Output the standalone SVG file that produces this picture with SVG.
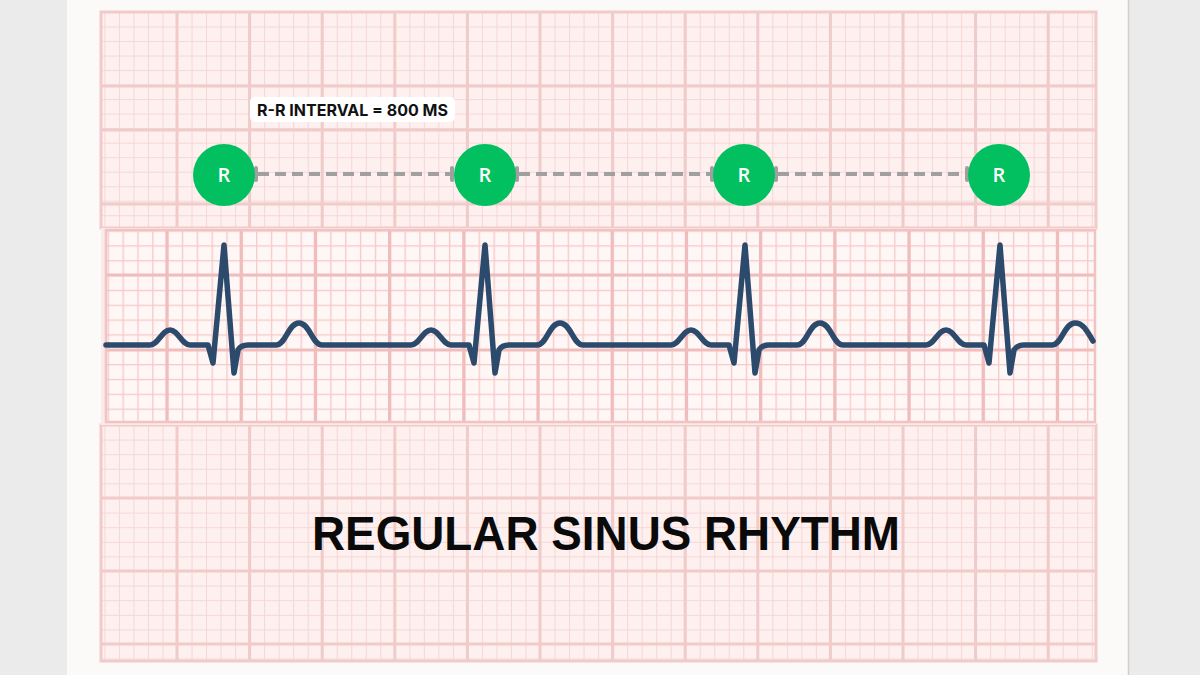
<svg xmlns="http://www.w3.org/2000/svg" width="1200" height="675" viewBox="0 0 1200 675">
<defs>
<pattern id="gridA" patternUnits="userSpaceOnUse" x="104.4" y="12" width="14.52" height="14.52">
<rect width="14.52" height="14.52" fill="#fdf0ef"/>
<path d="M0 0H14.52M0 0V14.52" stroke="#f5d7d6" stroke-width="2" fill="none"/>
</pattern>
<pattern id="gridL" patternUnits="userSpaceOnUse" x="104.4" y="425" width="14.52" height="14.6">
<rect width="14.52" height="14.6" fill="#fdf0ef"/>
<path d="M0 0H14.52M0 0V14.6" stroke="#f5d7d6" stroke-width="2" fill="none"/>
</pattern>
<pattern id="gridS" patternUnits="userSpaceOnUse" x="167" y="275" width="14.84" height="14.84">
<rect width="14.84" height="14.84" fill="#fff6f6"/>
<path d="M0 0H14.84M0 0V14.84" stroke="#f6c9c8" stroke-width="2.6" fill="none"/>
</pattern>
<style>
.major{stroke:#f0cbca;stroke-width:3;fill:none}
.smajor{stroke:#efbdbc;stroke-width:3.2;fill:none}
.border{fill:none;stroke:#f1cbca;stroke-width:3}
.conn{stroke:#a0a0a0;stroke-width:4;stroke-dasharray:11 6;fill:none}
.tick{stroke:#a0a0a0;stroke-width:4;stroke-linecap:round}
.rnode circle{fill:#02bf5f}
.rnode text{fill:#ffffff;font-family:"Open Sans","Liberation Sans",sans-serif;font-weight:600;font-size:20px;text-anchor:middle}
.ecg{fill:none;stroke:#2c4a6b;stroke-width:5.5;stroke-linejoin:round;stroke-linecap:round}
</style>
</defs>
<!-- background -->
<rect width="1200" height="675" fill="#ebebeb"/>
<rect x="67" y="0" width="1061" height="675" fill="#fbfaf8"/>
<line x1="1128.5" y1="0" x2="1128.5" y2="675" stroke="#cfcfcf" stroke-width="1.5"/>
<!-- upper grid -->
<rect x="101" y="12" width="995" height="216" fill="url(#gridA)"/>
<path class="major" d="M177 12V228M249.6 12V228M322.2 12V228M394.8 12V228M467.4 12V228M540 12V228M612.6 12V228M685.2 12V228M757.8 12V228M830.4 12V228M903 12V228M975.6 12V228M1048.2 12V228M101 86H1096M101 130H1096M101 204H1096"/>
<rect class="border" x="101" y="12" width="995" height="216"/>
<!-- lower grid -->
<rect x="101" y="425" width="995" height="236" fill="url(#gridL)"/>
<path class="major" d="M177 425V661M249.6 425V661M322.2 425V661M394.8 425V661M467.4 425V661M540 425V661M612.6 425V661M685.2 425V661M757.8 425V661M830.4 425V661M903 425V661M975.6 425V661M1048.2 425V661M101 498H1096M101 571H1096M101 644H1096"/>
<rect class="border" x="101" y="425" width="995" height="236"/>
<!-- strip -->
<rect x="101" y="228" width="995" height="197" fill="#fbeaea"/>
<rect x="106" y="230" width="989" height="192" fill="url(#gridS)"/>
<path class="smajor" d="M167 230V422M241.2 230V422M315.4 230V422M389.6 230V422M463.8 230V422M538 230V422M612.2 230V422M686.4 230V422M760.6 230V422M834.8 230V422M909 230V422M983.2 230V422M1057.4 230V422M106 275H1095M106 350H1095"/>
<rect x="106" y="230" width="989" height="192" fill="none" stroke="#f1c3c2" stroke-width="2.5"/>
<!-- ECG trace -->
<path id="ecg-trace" class="ecg" d="M106 345 L150 345 C158 345 162 330 170 330 C178 330 182 345 190 345 L208 345 L213 363 L224 245 L234 373 L238 350 Q241 345 248 345 L276 345 C286 345 288 323 299 323 C310 323 312 345 322 345
L411 345 C419 345 423 330 431 330 C439 330 443 345 451 345 L469 345 L474 363 L485 245 L495 373 L499 350 Q502 345 509 345 L537 345 C547 345 549 323 560 323 C571 323 573 345 583 345
L671 345 C679 345 683 330 691 330 C699 330 703 345 711 345 L729 345 L734 363 L745 245 L755 373 L759 350 Q762 345 769 345 L797 345 C807 345 809 323 820 323 C831 323 833 345 843 345
L926 345 C934 345 938 330 946 330 C954 330 958 345 966 345 L984 345 L989 363 L1000 245 L1010 373 L1014 350 Q1017 345 1024 345 L1052 345 C1062 345 1064 323 1075 323 C1084 323 1088 333 1093 341"/>
<!-- connectors -->
<g id="connectors">
<line class="conn" x1="258" y1="174" x2="451" y2="174"/>
<line class="tick" x1="256" y1="168" x2="256" y2="180"/>
<line class="tick" x1="452" y1="168" x2="452" y2="180"/>
<line class="conn" x1="519" y1="174" x2="711" y2="174"/>
<line class="tick" x1="517" y1="168" x2="517" y2="180"/>
<line class="tick" x1="712" y1="168" x2="712" y2="180"/>
<line class="conn" x1="778" y1="174" x2="966" y2="174"/>
<line class="tick" x1="776" y1="168" x2="776" y2="180"/>
<line class="tick" x1="967" y1="168" x2="967" y2="180"/>
</g>
<!-- nodes -->
<g id="r1" class="rnode"><circle cx="224" cy="175" r="31"/><text x="224" y="182">R</text></g>
<g id="r2" class="rnode"><circle cx="485" cy="175" r="31"/><text x="485" y="182">R</text></g>
<g id="r3" class="rnode"><circle cx="744" cy="175" r="31"/><text x="744" y="182">R</text></g>
<g id="r4" class="rnode"><circle cx="999" cy="175" r="31"/><text x="999" y="182">R</text></g>
<!-- label -->
<g id="rr-label">
<rect x="250" y="97" width="205" height="25" rx="5" fill="#ffffff"/>
<text x="257" y="115.5" font-family="Inter,'Liberation Sans',sans-serif" font-weight="700" font-size="15.5" fill="#111111" textLength="191" lengthAdjust="spacingAndGlyphs">R-R INTERVAL = 800 MS</text>
</g>
<!-- title -->
<g id="title">
<text x="312" y="550" font-family="'Liberation Sans',Arial,sans-serif" font-weight="700" font-size="49" fill="#0a0a0a" textLength="588" lengthAdjust="spacingAndGlyphs">REGULAR SINUS RHYTHM</text>
</g>
</svg>
